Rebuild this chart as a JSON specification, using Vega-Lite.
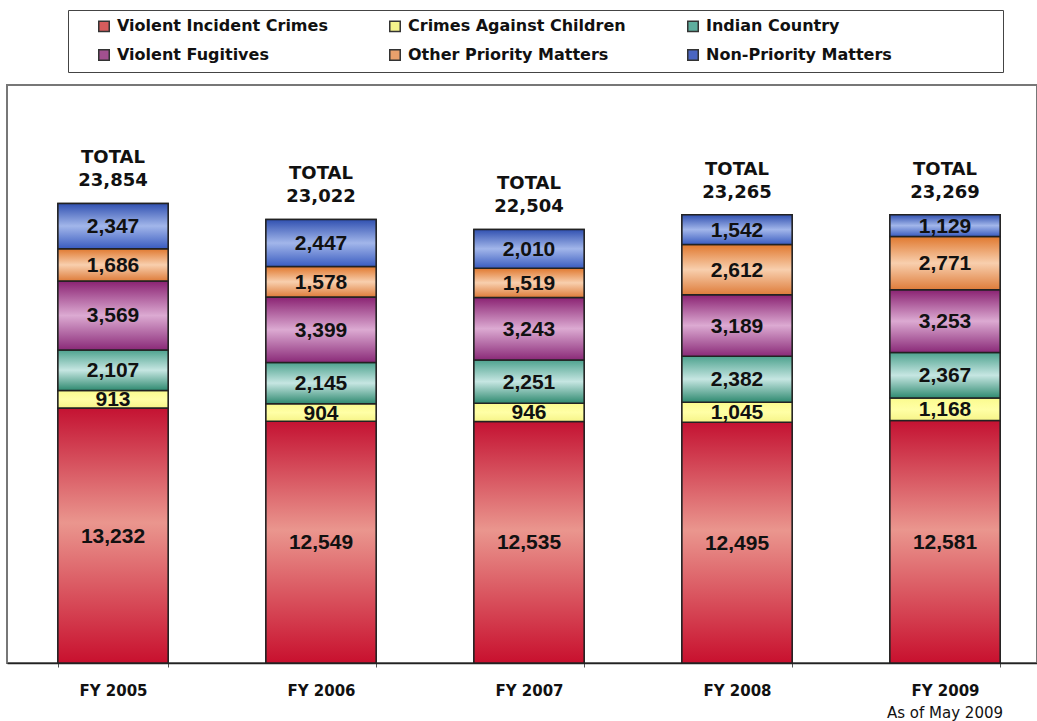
{
  "$schema": "https://vega.github.io/schema/vega-lite/v6.json",
  "autosize": {"type": "none"},
  "padding": {"left": 7, "top": 85, "right": 0, "bottom": 58},
  "width": 1030,
  "height": 578,
  "background": "white",
  "config": {
    "view": {"stroke": "#777", "strokeWidth": 2},
    "text": {"font": "Liberation Sans"}
  },
  "data": {
    "values": [
      {"year": "FY 2005", "category": "Violent Incident Crimes", "ord": 1, "value": 13232},
      {"year": "FY 2005", "category": "Crimes Against Children", "ord": 2, "value": 913},
      {"year": "FY 2005", "category": "Indian Country", "ord": 3, "value": 2107},
      {"year": "FY 2005", "category": "Violent Fugitives", "ord": 4, "value": 3569},
      {"year": "FY 2005", "category": "Other Priority Matters", "ord": 5, "value": 1686},
      {"year": "FY 2005", "category": "Non-Priority Matters", "ord": 6, "value": 2347},
      {"year": "FY 2006", "category": "Violent Incident Crimes", "ord": 1, "value": 12549},
      {"year": "FY 2006", "category": "Crimes Against Children", "ord": 2, "value": 904},
      {"year": "FY 2006", "category": "Indian Country", "ord": 3, "value": 2145},
      {"year": "FY 2006", "category": "Violent Fugitives", "ord": 4, "value": 3399},
      {"year": "FY 2006", "category": "Other Priority Matters", "ord": 5, "value": 1578},
      {"year": "FY 2006", "category": "Non-Priority Matters", "ord": 6, "value": 2447},
      {"year": "FY 2007", "category": "Violent Incident Crimes", "ord": 1, "value": 12535},
      {"year": "FY 2007", "category": "Crimes Against Children", "ord": 2, "value": 946},
      {"year": "FY 2007", "category": "Indian Country", "ord": 3, "value": 2251},
      {"year": "FY 2007", "category": "Violent Fugitives", "ord": 4, "value": 3243},
      {"year": "FY 2007", "category": "Other Priority Matters", "ord": 5, "value": 1519},
      {"year": "FY 2007", "category": "Non-Priority Matters", "ord": 6, "value": 2010},
      {"year": "FY 2008", "category": "Violent Incident Crimes", "ord": 1, "value": 12495},
      {"year": "FY 2008", "category": "Crimes Against Children", "ord": 2, "value": 1045},
      {"year": "FY 2008", "category": "Indian Country", "ord": 3, "value": 2382},
      {"year": "FY 2008", "category": "Violent Fugitives", "ord": 4, "value": 3189},
      {"year": "FY 2008", "category": "Other Priority Matters", "ord": 5, "value": 2612},
      {"year": "FY 2008", "category": "Non-Priority Matters", "ord": 6, "value": 1542},
      {"year": "FY 2009", "category": "Violent Incident Crimes", "ord": 1, "value": 12581},
      {"year": "FY 2009", "category": "Crimes Against Children", "ord": 2, "value": 1168},
      {"year": "FY 2009", "category": "Indian Country", "ord": 3, "value": 2367},
      {"year": "FY 2009", "category": "Violent Fugitives", "ord": 4, "value": 3253},
      {"year": "FY 2009", "category": "Other Priority Matters", "ord": 5, "value": 2771},
      {"year": "FY 2009", "category": "Non-Priority Matters", "ord": 6, "value": 1129}
    ]
  },
  "transform": [
    {"stack": "value", "groupby": ["year"], "sort": [{"field": "ord", "order": "ascending"}], "as": ["y0", "y1"]}
  ],
  "resolve": {"axis": {"x": "independent"}},
  "layer": [
    {
      "mark": {"type": "bar", "stroke": "#222", "strokeWidth": 1.5},
      "encoding": {
        "x": {
          "field": "year", "type": "nominal", "sort": null,
          "scale": {"paddingInner": 0.47, "paddingOuter": 0.211, "align": 0.58},
          "axis": {
            "title": null, "labelAngle": 0, "domainColor": "#222", "domainWidth": 1.5,
            "tickBand": "extent", "tickSize": 4, "tickColor": "#555",
            "labelFont": "DejaVu Sans", "labelFontWeight": "bold", "labelFontSize": 15,
            "labelColor": "#111", "labelPadding": 16
          }
        },
        "y": {"field": "y0", "type": "quantitative", "scale": {"domain": [0, 30000], "nice": false, "zero": true}, "axis": null},
        "y2": {"field": "y1"},
        "color": {
          "field": "category", "type": "nominal",
          "scale": {
            "domain": ["Violent Incident Crimes", "Crimes Against Children", "Indian Country", "Violent Fugitives", "Other Priority Matters", "Non-Priority Matters"],
            "range": ["#d65c5c", "#f4f38c", "#5fae9e", "#a2508f", "#e9a06c", "#4b66c2"]
          },
          "legend": {
            "orient": "none", "legendX": 61, "legendY": -75, "direction": "horizontal",
            "columns": 3, "gridAlign": "each", "columnPadding": 39, "rowPadding": 11,
            "title": "\u00a0", "titleOrient": "right", "titlePadding": 103, "titleFontSize": 16,
            "padding": 8, "strokeColor": "#444", "fillColor": "white",
            "symbolType": "square", "symbolSize": 110, "symbolOffset": 20, "symbolStrokeColor": "#333", "symbolStrokeWidth": 1.5, "symbolOpacity": 1,
            "labelFont": "DejaVu Sans", "labelFontWeight": "bold", "labelFontSize": 16, "labelColor": "#111", "labelOffset": 5, "labelLimit": 400
          }
        }
      }
    },
    {
      "transform": [{"filter": "datum.category == 'Violent Incident Crimes'"}],
      "mark": {"type": "bar", "stroke": "#222", "strokeWidth": 1.5,
        "fill": {"gradient": "linear", "x1": 0, "y1": 0, "x2": 0, "y2": 1, "stops": [
          {"offset": 0, "color": "#c41232"}, {"offset": 0.45, "color": "#ea968e"}, {"offset": 1, "color": "#c8102e"}]}},
      "encoding": {
        "x": {"field": "year", "type": "nominal", "sort": null, "axis": null},
        "y": {"field": "y0", "type": "quantitative"}, "y2": {"field": "y1"}
      }
    },
    {
      "transform": [{"filter": "datum.category == 'Crimes Against Children'"}],
      "mark": {"type": "bar", "stroke": "#222", "strokeWidth": 1.5,
        "fill": {"gradient": "linear", "x1": 0, "y1": 0, "x2": 0, "y2": 1, "stops": [
          {"offset": 0, "color": "#fbfb8e"}, {"offset": 0.5, "color": "#ffffa6"}, {"offset": 1, "color": "#f6f488"}]}},
      "encoding": {
        "x": {"field": "year", "type": "nominal", "sort": null, "axis": null},
        "y": {"field": "y0", "type": "quantitative"}, "y2": {"field": "y1"}
      }
    },
    {
      "transform": [{"filter": "datum.category == 'Indian Country'"}],
      "mark": {"type": "bar", "stroke": "#222", "strokeWidth": 1.5,
        "fill": {"gradient": "linear", "x1": 0, "y1": 0, "x2": 0, "y2": 1, "stops": [
          {"offset": 0, "color": "#4da28e"}, {"offset": 0.5, "color": "#c6e6e2"}, {"offset": 1, "color": "#2f8a70"}]}},
      "encoding": {
        "x": {"field": "year", "type": "nominal", "sort": null, "axis": null},
        "y": {"field": "y0", "type": "quantitative"}, "y2": {"field": "y1"}
      }
    },
    {
      "transform": [{"filter": "datum.category == 'Violent Fugitives'"}],
      "mark": {"type": "bar", "stroke": "#222", "strokeWidth": 1.5,
        "fill": {"gradient": "linear", "x1": 0, "y1": 0, "x2": 0, "y2": 1, "stops": [
          {"offset": 0, "color": "#8a2272"}, {"offset": 0.5, "color": "#dcaad2"}, {"offset": 1, "color": "#8a2a78"}]}},
      "encoding": {
        "x": {"field": "year", "type": "nominal", "sort": null, "axis": null},
        "y": {"field": "y0", "type": "quantitative"}, "y2": {"field": "y1"}
      }
    },
    {
      "transform": [{"filter": "datum.category == 'Other Priority Matters'"}],
      "mark": {"type": "bar", "stroke": "#222", "strokeWidth": 1.5,
        "fill": {"gradient": "linear", "x1": 0, "y1": 0, "x2": 0, "y2": 1, "stops": [
          {"offset": 0, "color": "#e0782e"}, {"offset": 0.5, "color": "#f8cfae"}, {"offset": 1, "color": "#de7c3a"}]}},
      "encoding": {
        "x": {"field": "year", "type": "nominal", "sort": null, "axis": null},
        "y": {"field": "y0", "type": "quantitative"}, "y2": {"field": "y1"}
      }
    },
    {
      "transform": [{"filter": "datum.category == 'Non-Priority Matters'"}],
      "mark": {"type": "bar", "stroke": "#222", "strokeWidth": 1.5,
        "fill": {"gradient": "linear", "x1": 0, "y1": 0, "x2": 0, "y2": 1, "stops": [
          {"offset": 0, "color": "#3050b0"}, {"offset": 0.5, "color": "#a2b6ea"}, {"offset": 1, "color": "#3a5cc0"}]}},
      "encoding": {
        "x": {"field": "year", "type": "nominal", "sort": null, "axis": null},
        "y": {"field": "y0", "type": "quantitative"}, "y2": {"field": "y1"}
      }
    },
    {
      "transform": [{"fold": ["y0", "y1"], "as": ["k", "v"]}],
      "mark": {"type": "text", "font": "Liberation Sans", "fontWeight": "bold", "fontSize": 21, "color": "#111", "baseline": "middle", "dy": 1},
      "encoding": {
        "x": {"field": "year", "type": "nominal", "sort": null, "axis": null},
        "y": {"aggregate": "mean", "field": "v", "type": "quantitative"},
        "detail": {"field": "category", "type": "nominal"},
        "text": {"field": "value", "type": "quantitative", "format": ","}
      }
    },
    {
      "transform": [{"aggregate": [{"op": "sum", "field": "value", "as": "total"}], "groupby": ["year"]}],
      "mark": {"type": "text", "font": "DejaVu Sans", "fontWeight": "bold", "fontSize": 18, "color": "#111", "baseline": "middle", "dy": -22},
      "encoding": {
        "x": {
          "field": "year", "type": "nominal", "sort": null,
          "axis": {
            "orient": "bottom", "title": null, "labelAngle": 0, "domain": false, "ticks": false,
            "labelFont": "DejaVu Sans", "labelFontSize": 15, "labelColor": "#111", "labelPadding": 42,
            "labelExpr": "datum.value == 'FY 2009' ? 'As of May 2009' : ''"
          }
        },
        "y": {"field": "total", "type": "quantitative"},
        "text": {"field": "total", "type": "quantitative", "format": ","}
      }
    },
    {
      "transform": [{"aggregate": [{"op": "sum", "field": "value", "as": "total"}], "groupby": ["year"]}],
      "mark": {"type": "text", "font": "DejaVu Sans", "fontWeight": "bold", "fontSize": 18, "color": "#111", "baseline": "middle", "dy": -45},
      "encoding": {
        "x": {"field": "year", "type": "nominal", "sort": null, "axis": null},
        "y": {"field": "total", "type": "quantitative"},
        "text": {"value": "TOTAL"}
      }
    }
  ]
}
